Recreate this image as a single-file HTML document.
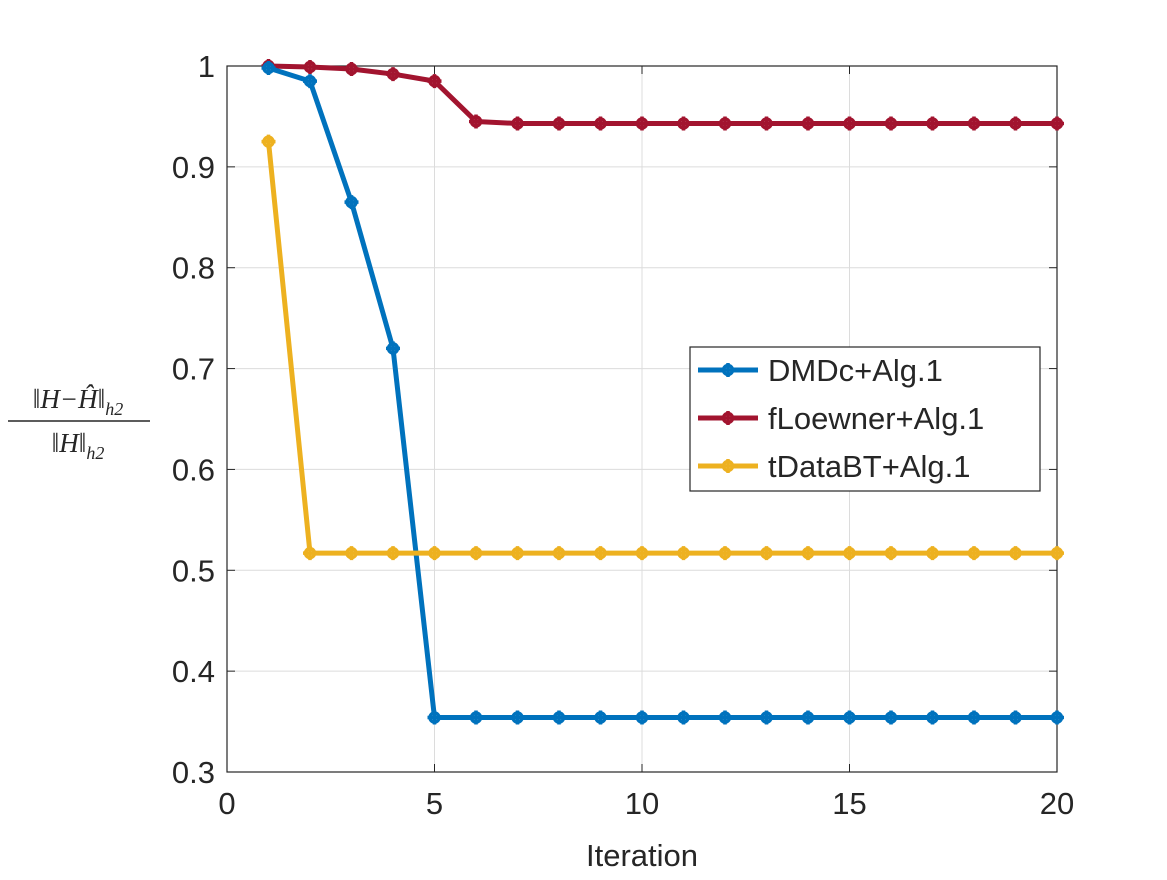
<!DOCTYPE html>
<html><head><meta charset="utf-8"><style>
body{margin:0;background:#fff;}
svg text{font-family:"Liberation Sans",sans-serif;fill:#262626;}
</style></head><body>
<svg id="chart" width="1167" height="875" xmlns="http://www.w3.org/2000/svg">
<rect x="0" y="0" width="1167" height="875" fill="#fff"/>
<g id="grid"></g>
<rect x="227" y="66" width="830" height="706" fill="none" stroke="#262626" stroke-width="1.2"/>
<g id="ticks"></g>
<g id="series"></g>
<text x="642" y="866" font-size="31" text-anchor="middle">Iteration</text>
<g>
<text x="78" y="408" font-size="27" text-anchor="middle" font-style="italic" style="font-family:'Liberation Serif',serif">‖H−Ĥ‖<tspan font-size="18" dy="7">h2</tspan></text>
<line x1="8" y1="421" x2="150" y2="421" stroke="#262626" stroke-width="1.5"/>
<text x="78" y="452" font-size="27" text-anchor="middle" font-style="italic" style="font-family:'Liberation Serif',serif">‖H‖<tspan font-size="18" dy="7">h2</tspan></text>
</g>
<g>
<rect x="690" y="347" width="350" height="144" fill="#fff" stroke="#262626" stroke-width="1.2"/>
<g id="legend-entries"></g>
</g>
</svg>
<script>
const iterations=[1,2,3,4,5,6,7,8,9,10,11,12,13,14,15,16,17,18,19,20];
const dmdc=[0.998,0.985,0.865,0.72,0.354,0.354,0.354,0.354,0.354,0.354,0.354,0.354,0.354,0.354,0.354,0.354,0.354,0.354,0.354,0.354];
const floewner=[1.0,0.999,0.997,0.992,0.985,0.945,0.943,0.943,0.943,0.943,0.943,0.943,0.943,0.943,0.943,0.943,0.943,0.943,0.943,0.943];
const tdatabt=[0.925,0.517,0.517,0.517,0.517,0.517,0.517,0.517,0.517,0.517,0.517,0.517,0.517,0.517,0.517,0.517,0.517,0.517,0.517,0.517];
const xTicks=[0,5,10,15,20];
const yTicks=[0.3,0.4,0.5,0.6,0.7,0.8,0.9,1];
const seriesNames=["DMDc+Alg.1","fLoewner+Alg.1","tDataBT+Alg.1"];
const NS="http://www.w3.org/2000/svg";
const L=227,R=1057,T=66,B=772;
const sx=v=>L+(v-0)/(20-0)*(R-L);
const sy=v=>B-(v-0.3)/(1-0.3)*(B-T);
function mk(tag,attrs,parent){const e=document.createElementNS(NS,tag);for(const k in attrs)e.setAttribute(k,attrs[k]);parent.appendChild(e);return e;}
const grid=document.getElementById('grid'),ticks=document.getElementById('ticks');
xTicks.forEach(t=>{const x=sx(t);
 const g=mk('line',{x1:x,x2:x,y1:T,y2:B,stroke:'#dcdcdc','stroke-width':1},grid);
 
 mk('line',{x1:x,x2:x,y1:B,y2:B-8,stroke:'#262626'},ticks);
 mk('line',{x1:x,x2:x,y1:T,y2:T+8,stroke:'#262626'},ticks);
 const tx=mk('text',{x:x,y:B+42,'font-size':31,'text-anchor':'middle'},ticks);tx.textContent=t;
 });
yTicks.forEach(t=>{const y=sy(t);
 const g=mk('line',{x1:L,x2:R,y1:y,y2:y,stroke:'#dcdcdc','stroke-width':1},grid);
 
 mk('line',{x1:L,x2:L+8,y1:y,y2:y,stroke:'#262626'},ticks);
 mk('line',{x1:R,x2:R-8,y1:y,y2:y,stroke:'#262626'},ticks);
 const tx=mk('text',{x:L-12,y:y+11,'font-size':31,'text-anchor':'end'},ticks);tx.textContent=t;
 });
const colors=["#0072BD","#A2142F","#EDB120"];
const data=[dmdc,floewner,tdatabt];
const sg=document.getElementById('series');
function marker(x,y,c,p){mk('circle',{cx:x,cy:y,r:4.5,fill:'#fff',stroke:c,'stroke-width':3.5},p);
 mk('path',{d:`M${x-7} ${y}H${x+7}M${x} ${y-7}V${y+7}`,stroke:c,'stroke-width':3.5},p);}
[1,0,2].forEach(i=>{
 const g=mk('g',{},sg);
 
 
 const pts=data[i].map((v,k)=>sx(iterations[k])+','+sy(v)).join(' ');
 mk('polyline',{points:pts,fill:'none',stroke:colors[i],'stroke-width':5,'stroke-linejoin':'round'},g);
 data[i].forEach((v,k)=>marker(sx(iterations[k]),sy(v),colors[i],g));
});
const lg=document.getElementById('legend-entries');
seriesNames.forEach((n,i)=>{const y=370+i*48;
 const g=mk('g',{},lg);
 
 mk('line',{x1:698,x2:758,y1:y,y2:y,stroke:colors[i],'stroke-width':5},g);
 marker(728,y,colors[i],g);
 const t=mk('text',{x:768,y:y+11,'font-size':31},g);t.textContent=n;});
</script>
</body></html>
